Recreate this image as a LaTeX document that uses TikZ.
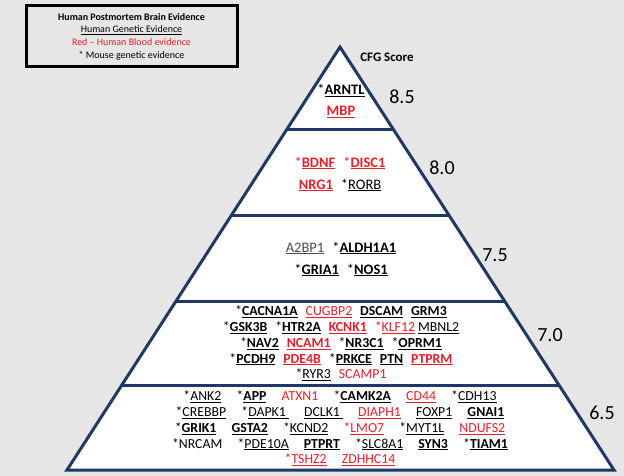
\documentclass[tikz,border=0pt]{standalone}
\usepackage{fontspec}
\setmainfont{Carlito}
\usetikzlibrary{calc}
\definecolor{pyrblue}{RGB}{31,56,100}
\definecolor{bloodred}{RGB}{232,32,42}
\definecolor{bggray}{RGB}{230,230,230}
\newlength{\genegap}
\setlength{\genegap}{0.8em}
\newcommand{\gb}[1]{\underline{\textbf{#1}}}
\newcommand{\gu}[1]{\underline{#1}}
\newcommand{\rb}[1]{\textcolor{bloodred}{\underline{\textbf{#1}}}}
\newcommand{\ru}[1]{\textcolor{bloodred}{\underline{#1}}}
\newcommand{\rn}[1]{\textcolor{bloodred}{#1}}
\newcommand{\gsep}{\hspace{\genegap}}

\begin{document}
\begin{tikzpicture}[x=1pt, y=-1pt,
	pyr/.style={draw=pyrblue, line width=3pt, line join=miter},
	genes/.style={align=center, inner sep=0pt, font=\fontsize{13.8}{15.7}\selectfont},
	widegenes/.style={align=center, inner sep=0pt, font=\fontsize{13.8}{15.7}\selectfont\setlength{\genegap}{1.1em}},
	biggenes/.style={align=center, inner sep=0pt, font=\fontsize{14.5}{16}\selectfont},
	score/.style={inner sep=0pt, font=\fontsize{20}{22}\selectfont}]
	\fill[bggray] (0,0) rectangle (624,476);
	\useasboundingbox (0,0) rectangle (624,476);
	\coordinate (top) at (340,47);
	\coordinate (bl) at (67,470);
	\coordinate (br) at (614,470);
	\fill[white] (top) -- (bl) -- (br) -- cycle;
	\foreach \t in {0.196,0.3995,0.6005,0.8014}
		\draw[pyr] ($(top)!\t!(bl)$) -- ($(top)!\t!(br)$);
	\draw[pyr] (top) -- (bl) -- (br) -- cycle;
	\node[draw, line width=3pt, minimum width=211, minimum height=61, align=center, inner sep=0pt, font=\fontsize{10}{12.7}\selectfont] (legend) at (131.5,36.5) {\textbf{Human Postmortem Brain Evidence}\\ \underline{Human Genetic Evidence}\\ \rn{Red -- Human\ Blood evidence}\\ * Mouse genetic evidence};
	\node[inner sep=0pt, font=\fontsize{13}{15}\selectfont\bfseries] (cfg) at (387,57) {CFG Score};
	\node[score] (s85) at (402,97) {8.5};
	\node[score] (s80) at (442,168) {8.0};
	\node[score] (s75) at (495,255) {7.5};
	\node[score] (s70) at (550,335) {7.0};
	\node[score] (s65) at (602,413) {6.5};
	\node[biggenes] (t1) at (341,101) {*\gb{ARNTL}\\[5pt] \rb{MBP}};
	\node[biggenes] (t2) at (340,174) {\rn{*}\rb{BDNF}\gsep\rn{*}\rb{DISC1}\\[6pt] \rb{NRG1}\gsep *\gu{RORB}};
	\node[biggenes] (t3) at (341,259) {\textcolor{black!70}{\gu{A2BP1}}\gsep *\gb{ALDH1A1}\\[6pt] *\gb{GRIA1}\gsep *\gb{NOS1}};
	\node[genes] (t4) at (341,343.5) {*\gb{CACNA1A}\gsep\ru{CUGBP2}\gsep\gb{DSCAM}\gsep\gb{GRM3}\\
		*\gb{GSK3B}\gsep *\gb{HTR2A}\gsep\rb{KCNK1}\gsep\rn{*}\ru{KLF12} \gu{MBNL2}\\
		*\gb{NAV2}\gsep\rb{NCAM1}\gsep *\gb{NR3C1}\gsep *\gb{OPRM1}\\
		*\gb{PCDH9}\gsep\rb{PDE4B}\gsep *\gb{PRKCE}\gsep\gb{PTN}\gsep\rb{PTPRM}\\
		*\gu{RYR3}\gsep\rn{SCAMP1}};
	\node[widegenes] (t5) at (340,428.5) {*\gu{ANK2}\gsep *\gb{APP}\gsep\rn{ATXN1}\gsep *\gb{CAMK2A}\gsep\ru{CD44}\gsep *\gu{CDH13}\\
		*\gu{CREBBP}\gsep *\gu{DAPK1\ }\gsep\gu{DCLK1\ }\gsep\ru{DIAPH1}\gsep\gu{FOXP1}\gsep\gb{GNAI1}\\
		*\gb{GRIK1}\gsep\gb{GSTA2}\gsep *\gu{KCND2}\gsep\rn{*}\ru{LMO7}\gsep *\gu{MYT1L}\gsep\ru{NDUFS2}\\
		*NRCAM\gsep *\gu{PDE10A}\gsep\gb{PTPRT}\gsep *\gu{SLC8A1}\gsep\gb{SYN3}\gsep *\gb{TIAM1}\\
		\rn{*}\ru{TSHZ2}\gsep\ru{ZDHHC14}};
\end{tikzpicture}
\end{document}
